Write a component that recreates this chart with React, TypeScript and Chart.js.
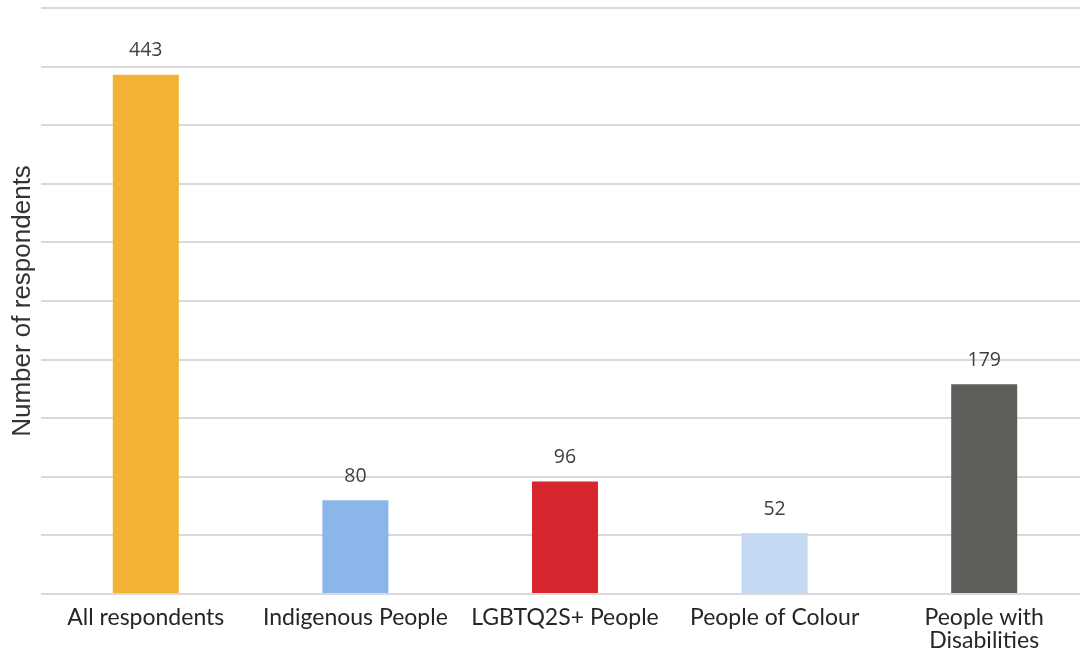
import React, { useEffect, useRef } from "react";
import { Chart, registerables } from "chart.js";

Chart.register(...registerables);

const categories: (string | string[])[] = [
  "All respondents",
  "Indigenous People",
  "LGBTQ2S+ People",
  "People of Colour",
  ["People with", "Disabilities"],
];
const respondents = [443, 80, 96, 52, 179];
const barColors = ["#F2B233", "#8AB6E9", "#D8262F", "#C5DAF2", "#5F5E5A"];
const yTitle = "Number of respondents";

const valueLabels = {
  id: "valueLabels",
  afterDatasetsDraw(chart: any) {
    const ctx = chart.ctx;
    const meta = chart.getDatasetMeta(0);
    const data = chart.data.datasets[0].data as number[];
    ctx.save();
    ctx.font = "19.5px 'Open Sans'";
    ctx.fillStyle = "#404040";
    ctx.textAlign = "center";
    ctx.textBaseline = "middle";
    meta.data.forEach((bar: any, i: number) => {
      ctx.fillText(String(data[i]), bar.x, bar.y - 24);
    });
    ctx.restore();
  },
};

export default function App() {
  const ref = useRef<HTMLCanvasElement>(null);
  useEffect(() => {
    document.body.style.overflow = "hidden";
    const chart = new Chart(ref.current!, {
      type: "bar",
      data: {
        labels: categories,
        datasets: [
          {
            data: respondents,
            backgroundColor: barColors,
            barPercentage: 0.315,
            categoryPercentage: 1,
          },
        ],
      },
      options: {
        animation: false,
        responsive: true,
        maintainAspectRatio: false,
        layout: { padding: { top: 8, left: 0, right: 0, bottom: 0 } },
        plugins: { legend: { display: false }, tooltip: { enabled: false } },
        scales: {
          x: {
            grid: { display: false, drawTicks: false },
            border: { display: false },
            ticks: {
              color: "#262626",
              font: { family: "Lato", size: 23, lineHeight: 1.0 },
              padding: 12,
              maxRotation: 0,
              autoSkip: false,
            },
            afterFit: (s: any) => {
              s.height = 62;
            },
          },
          y: {
            min: 0,
            max: 500,
            ticks: { display: false, stepSize: 50 },
            grid: { color: "#D9D9D9", lineWidth: 2, drawTicks: false },
            border: { display: false },
            title: {
              display: true,
              text: yTitle,
              color: "#333333",
              font: { family: "Liberation Sans", size: 26 },
              padding: { top: 7, bottom: 0 },
            },
            afterFit: (s: any) => {
              s.width = 41;
            },
          },
        },
      },
      plugins: [valueLabels],
    });
    return () => chart.destroy();
  }, []);
  return (
    <div style={{ position: "absolute", left: 0, top: 0, width: 1089, height: 656 }}>
      <canvas ref={ref} />
    </div>
  );
}
